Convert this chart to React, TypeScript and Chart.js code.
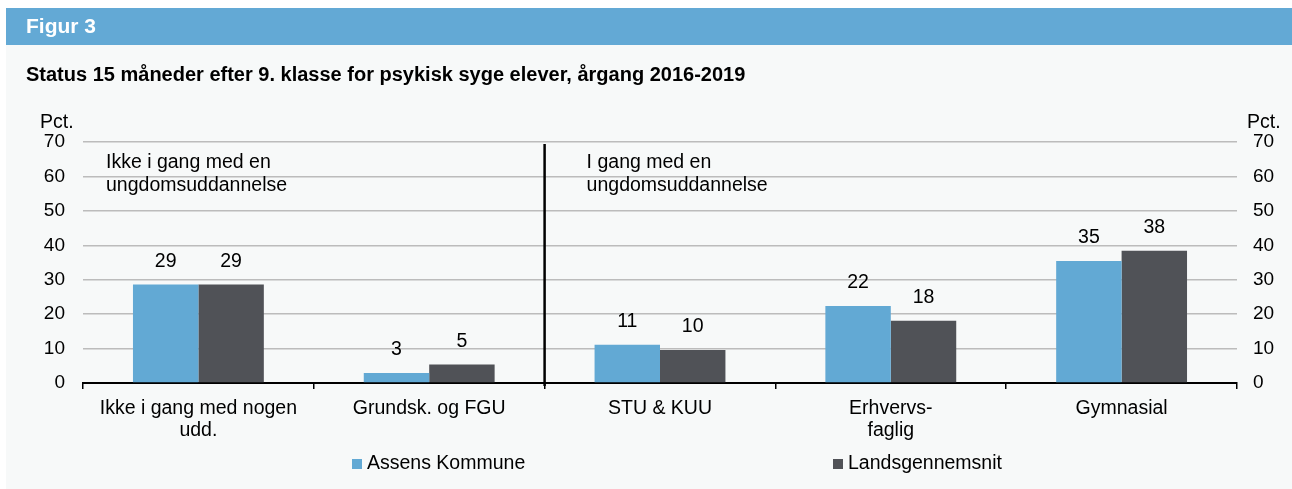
import React, { useEffect, useRef } from "react";
import { Chart, registerables } from "chart.js";
Chart.register(...registerables);

const categories: (string | string[])[] = [
  ["Ikke i gang med nogen", "udd."],
  "Grundsk. og FGU",
  "STU & KUU",
  ["Erhvervs-", "faglig"],
  "Gymnasial",
];
const assensValues = [28.6, 2.9, 11.1, 22.4, 35.4];
const landsValues = [28.6, 5.4, 9.6, 18.1, 38.4];
const seriesNames = ["Assens Kommune", "Landsgennemsnit"];
const seriesColors = ["#62a9d4", "#505257"];
const groupNotes = [
  ["Ikke i gang med en", "ungdomsuddannelse"],
  ["I gang med en", "ungdomsuddannelse"],
];
const figureLabel = "Figur 3";
const titleText = "Status 15 måneder efter 9. klasse for psykisk syge elever, årgang 2016-2019";
const unitLabel = "Pct.";
const yMin = 0;
const yMax = 70;
const yStep = 10;

const FONT = "Arial, 'Liberation Sans', sans-serif";
const TEXT_SIZE = 19.5;

const decorPlugin = {
  id: "decor",
  beforeDraw(chart: any) {
    const ctx = chart.ctx;
    const w = chart.width;
    const h = chart.height;
    ctx.save();
    ctx.fillStyle = "#ffffff";
    ctx.fillRect(0, 0, w, h);
    ctx.fillStyle = "#f7f9f9";
    ctx.fillRect(6, 45, w - 6, h - 45);
    ctx.fillStyle = "#63a9d5";
    ctx.fillRect(6, 8, w - 6, 37);
    ctx.fillStyle = "#ffffff";
    ctx.font = `bold 21px ${FONT}`;
    ctx.textBaseline = "middle";
    ctx.textAlign = "left";
    ctx.fillText(figureLabel, 26, 27);
    ctx.fillStyle = "#000000";
    ctx.font = `bold 20px ${FONT}`;
    ctx.fillText(titleText, 26, 75);
    ctx.font = `${TEXT_SIZE}px ${FONT}`;
    ctx.fillText(unitLabel, 40, 123);
    ctx.fillText(unitLabel, 1247, 123);
    ctx.restore();
  },
  afterDatasetsDraw(chart: any) {
    const ctx = chart.ctx;
    const area = chart.chartArea;
    const xs = chart.scales.x;
    ctx.save();
    // separator
    const sepX = (xs.getPixelForValue(1) + xs.getPixelForValue(2)) / 2;
    ctx.strokeStyle = "#000000";
    ctx.lineWidth = 2.5;
    ctx.beginPath();
    ctx.moveTo(sepX, area.top + 2);
    ctx.lineTo(sepX, area.bottom + 3);
    ctx.stroke();
    // data labels
    ctx.fillStyle = "#000000";
    ctx.font = `${TEXT_SIZE}px ${FONT}`;
    ctx.textAlign = "center";
    ctx.textBaseline = "middle";
    chart.data.datasets.forEach((ds: any, di: number) => {
      const meta = chart.getDatasetMeta(di);
      meta.data.forEach((el: any, i: number) => {
        ctx.fillText(String(Math.round(ds.data[i])), el.x, el.y - 23);
      });
    });
    // group notes
    ctx.textAlign = "left";
    const noteX = [area.left + 23, sepX + 42];
    groupNotes.forEach((lines, gi) => {
      lines.forEach((ln, li) => {
        ctx.fillText(ln, noteX[gi], area.top + 21 + li * 23);
      });
    });
    // legend
    const legX = [352, 833];
    seriesNames.forEach((name, i) => {
      ctx.fillStyle = seriesColors[i];
      ctx.fillRect(legX[i], 459, 10, 10);
      ctx.fillStyle = "#000000";
      ctx.fillText(name, legX[i] + 15, 464);
    });
    ctx.restore();
  },
};

export default function App() {
  const ref = useRef<HTMLCanvasElement | null>(null);
  useEffect(() => {
    document.body.style.margin = "0";
    if (!ref.current) return;
    const tickFont = { family: FONT, size: 19 };
    const chart = new Chart(ref.current, {
      type: "bar",
      data: {
        labels: categories,
        datasets: [
          {
            label: seriesNames[0],
            data: assensValues,
            backgroundColor: seriesColors[0],
            categoryPercentage: 0.567,
            barPercentage: 1,
          },
          {
            label: seriesNames[1],
            data: landsValues,
            backgroundColor: seriesColors[1],
            categoryPercentage: 0.567,
            barPercentage: 1,
          },
        ],
      },
      options: {
        responsive: false,
        animation: false,
        layout: { padding: { top: 142, left: 0, right: 0, bottom: 0 } },
        plugins: {
          legend: { display: false },
          title: { display: false },
          tooltip: { enabled: false },
        },
        scales: {
          x: {
            grid: {
              offset: true,
              drawOnChartArea: false,
              drawTicks: true,
              tickLength: 6,
              color: "#000000",
              lineWidth: 1.5,
            },
            border: { color: "#000000", width: 2 },
            ticks: {
              font: { family: FONT, size: TEXT_SIZE, lineHeight: 1.15 },
              color: "#000000",
              padding: 8,
              maxRotation: 0,
              autoSkip: false,
            },
            afterFit: (s: any) => {
              s.height = 106;
            },
          },
          y: {
            position: "left",
            min: yMin,
            max: yMax,
            ticks: { stepSize: yStep, font: tickFont, color: "#000000", padding: 18 },
            grid: { color: "#bcbcbc", lineWidth: 1.5, drawTicks: false },
            border: { display: false },
            afterFit: (s: any) => {
              s.width = 83;
            },
          },
          y2: {
            position: "right",
            min: yMin,
            max: yMax,
            ticks: { stepSize: yStep, font: tickFont, color: "#000000", padding: 16 },
            grid: { display: false, drawTicks: false },
            border: { display: false },
            afterFit: (s: any) => {
              s.width = 55;
            },
          },
        },
      },
      plugins: [decorPlugin],
    });
    return () => chart.destroy();
  }, []);
  return (
    <div style={{ width: 1292, height: 489 }}>
      <canvas ref={ref} width={1292} height={489} style={{ display: "block" }} />
    </div>
  );
}
